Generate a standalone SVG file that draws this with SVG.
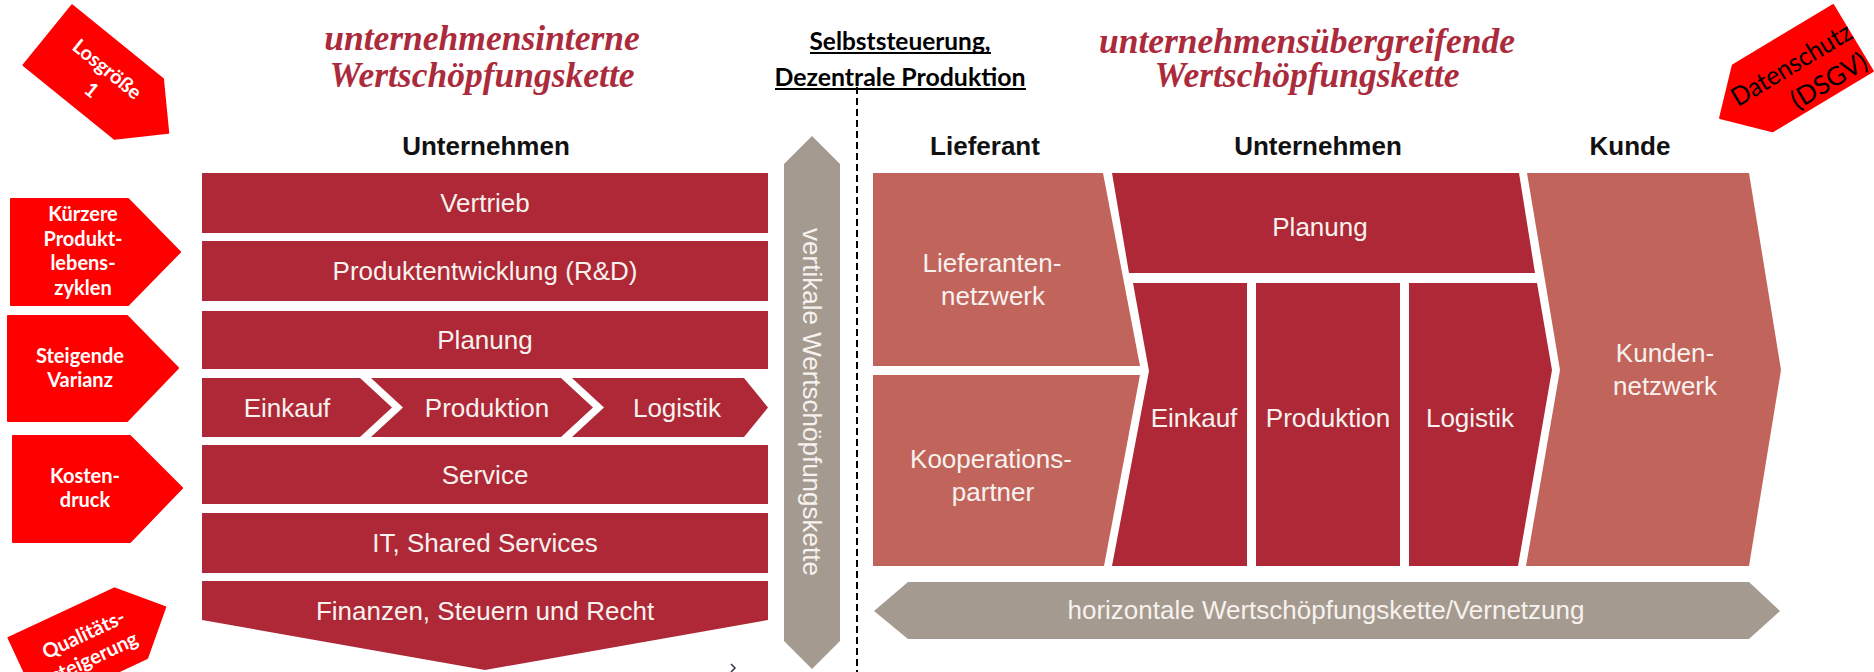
<svg xmlns="http://www.w3.org/2000/svg" width="1874" height="672" viewBox="0 0 1874 672">
<style>
.dr{fill:#ae2837}
.sl{fill:#c1655c}
.gr{fill:#a59a8f}
.red{fill:#ff0000;stroke:#ff0000;stroke-width:2;stroke-linejoin:round}
.bt{font-family:"Liberation Sans",Arial,sans-serif;font-size:26px;fill:#f7f2ee;text-anchor:middle}
.hd{font-family:"Liberation Sans",Arial,sans-serif;font-size:26px;font-weight:bold;fill:#111;text-anchor:middle}
.ti{font-family:"Liberation Serif","Times New Roman",serif;font-size:35.5px;font-weight:bold;font-style:italic;fill:#ab2b3c;text-anchor:middle}
.lb{font-family:Lato,"Liberation Sans",sans-serif;font-size:20px;font-weight:bold;fill:#fff;text-anchor:middle}
.ct{font-family:Lato,"Liberation Sans",sans-serif;font-size:25px;font-weight:bold;fill:#000;text-anchor:middle}
</style>
<rect width="1874" height="672" fill="#fff"/>

<g id="titles">
<text class="ti" x="482" y="50">unternehmensinterne</text>
<text class="ti" x="482" y="87">Wertschöpfungskette</text>
<text class="ti" x="1307" y="53">unternehmensübergreifende</text>
<text class="ti" x="1307" y="87">Wertschöpfungskette</text>
</g>

<g id="center-title">
<text class="ct" x="900" y="50" textLength="181" lengthAdjust="spacingAndGlyphs">Selbststeuerung,</text>
<text class="ct" x="900" y="86" textLength="251" lengthAdjust="spacingAndGlyphs">Dezentrale Produktion</text>
<line x1="810" y1="53" x2="991" y2="53" stroke="#000" stroke-width="2"/>
<line x1="775" y1="89" x2="1026" y2="89" stroke="#000" stroke-width="2"/>
</g>

<g id="connectors">
<line x1="857" y1="76" x2="857" y2="672" stroke="#000" stroke-width="2" stroke-dasharray="7,4"/>
<path d="M731 664 L735 668 L731 672" fill="none" stroke="#334" stroke-width="1.5"/>
</g>

<g id="headings">
<text class="hd" x="486" y="155">Unternehmen</text>
<text class="hd" x="985" y="155">Lieferant</text>
<text class="hd" x="1318" y="155">Unternehmen</text>
<text class="hd" x="1630" y="155">Kunde</text>
</g>

<g id="vertrieb"><rect class="dr" x="202" y="173" width="566" height="60"/><text class="bt" x="485" y="212">Vertrieb</text></g>
<g id="produktentwicklung"><rect class="dr" x="202" y="241" width="566" height="60"/><text class="bt" x="485" y="280">Produktentwicklung (R&amp;D)</text></g>
<g id="planung-intern"><rect class="dr" x="202" y="311" width="566" height="58"/><text class="bt" x="485" y="349">Planung</text></g>
<g id="einkauf-intern"><polygon class="dr" points="202,378 360,378 392,407.5 360,437 202,437"/><text class="bt" x="287" y="417">Einkauf</text></g>
<g id="produktion-intern"><polygon class="dr" points="371,378 561,378 593,407.5 561,437 371,437 403,407.5"/><text class="bt" x="487" y="417">Produktion</text></g>
<g id="logistik-intern"><polygon class="dr" points="572,378 744,378 768,407.5 744,437 572,437 604,407.5"/><text class="bt" x="677" y="417">Logistik</text></g>
<g id="service"><rect class="dr" x="202" y="445" width="566" height="59"/><text class="bt" x="485" y="484">Service</text></g>
<g id="it"><rect class="dr" x="202" y="513" width="566" height="60"/><text class="bt" x="485" y="552">IT, Shared Services</text></g>
<g id="finanzen"><polygon class="dr" points="202,581 768,581 768,620 485,670 202,620"/><text class="bt" x="485" y="620">Finanzen, Steuern und Recht</text></g>

<g id="vertikal">
<polygon class="gr" points="812,136 840,164 840,641 812,669 784,641 784,164"/>
<text class="bt" transform="translate(812,402) rotate(90)" x="0" y="9">vertikale Wertschöpfungskette</text>
</g>

<g id="lieferantennetzwerk"><polygon class="sl" points="873,173 1103,173 1140,366 873,366"/><text class="bt" x="992" y="272">Lieferanten-</text><text class="bt" x="993" y="305">netzwerk</text></g>
<g id="kooperationspartner"><polygon class="sl" points="873,375 1140,375 1104,566 873,566"/><text class="bt" x="991" y="468">Kooperations-</text><text class="bt" x="993" y="501">partner</text></g>
<g id="planung"><polygon class="dr" points="1112,173 1519,173 1535,273 1129,273"/><text class="bt" x="1320" y="236">Planung</text></g>
<g id="einkauf"><polygon class="dr" points="1133,283 1247,283 1247,566 1112,566 1149,371"/><text class="bt" x="1194" y="427">Einkauf</text></g>
<g id="produktion"><rect class="dr" x="1256" y="283" width="144" height="283"/><text class="bt" x="1328" y="427">Produktion</text></g>
<g id="logistik"><polygon class="dr" points="1409,283 1537,283 1552,370 1518,566 1409,566"/><text class="bt" x="1470" y="427">Logistik</text></g>
<g id="kundennetzwerk"><polygon class="sl" points="1527,173 1749,173 1781,370 1749,566 1526,566 1560,370"/><text class="bt" x="1665" y="362">Kunden-</text><text class="bt" x="1665" y="395">netzwerk</text></g>

<g id="horizontal">
<polygon class="gr" points="874,611 908,582 1749,582 1780,611 1749,639 908,639"/>
<text class="bt" x="1326" y="619">horizontale Wertschöpfungskette/Vernetzung</text>
</g>

<g id="kuerzere"><polygon class="red" points="11,199 128,199 180,252 128,305 11,305"/>
<text class="lb" x="83" y="221">Kürzere</text><text class="lb" x="83" y="245.5">Produkt-</text><text class="lb" x="83" y="270">lebens-</text><text class="lb" x="83" y="294.5">zyklen</text></g>
<g id="steigende"><polygon class="red" points="8,316 127,316 178,368 127,421 8,421"/>
<text class="lb" x="80" y="363">Steigende</text><text class="lb" x="80" y="387">Varianz</text></g>
<g id="kosten"><polygon class="red" points="13,436 130,436 182,488 130,542 13,542"/>
<text class="lb" x="85" y="483">Kosten-</text><text class="lb" x="85" y="507">druck</text></g>

<g id="losgroesse" transform="translate(108,84) rotate(39)">
<polygon class="red" points="-77.5,-38.5 39.5,-38.5 77.5,0 39.5,38.5 -77.5,38.5"/>
<text class="lb" x="-10" y="-4">Losgröße</text><text class="lb" x="-9" y="22">1</text>
</g>

<g id="datenschutz">
<polygon class="red" transform="translate(1786.5,78) rotate(149)" points="-77.5,-38.5 39.5,-38.5 77.5,0 39.5,38.5 -77.5,38.5"/>
<g transform="translate(1786.5,78) rotate(-31)" font-family="Lato,'Liberation Sans',sans-serif" font-size="26" fill="#000" text-anchor="end">
<text x="79" y="0" textLength="136" lengthAdjust="spacingAndGlyphs">Datenschutz</text>
<text x="77" y="33">(DSGV)</text>
</g>
</g>

<g id="qualitaet" transform="translate(95,640) rotate(-25)">
<polygon class="red" points="-77.5,-38.5 39.5,-38.5 77.5,0 39.5,38.5 -77.5,38.5"/>
<text class="lb" x="-8" y="-3">Qualitäts-</text><text class="lb" x="-8" y="22">steigerung</text>
</g>
</svg>
